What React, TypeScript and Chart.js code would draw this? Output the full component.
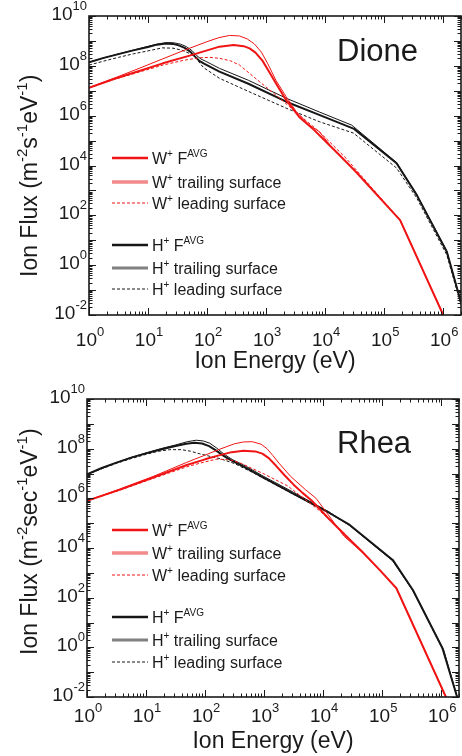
import React, { useEffect, useRef } from 'react';
import { Chart, registerables } from 'chart.js';

Chart.register(...registerables);

const FONT = '"Liberation Sans", Arial, Helvetica, sans-serif';
const RED = '#f01414';
const BLACK = '#161616';
const TEXT = '#1a1a1a';

const X_TICK_EXP = [0, 1, 2, 3, 4, 5, 6];
const Y_TICK_EXP = [-2, 0, 2, 4, 6, 8, 10];
const X_MIN = 1;
const X_MAX = 2e6;
const Y_MIN = 1e-2;
const Y_MAX = 1e10;

// ---------------- Dione ----------------
const DIONE_H_AVG_E = [1, 1.78, 3.16, 5.62, 10, 14.1, 20, 26.3, 33.1, 41.7, 52.5, 63.1, 74.1, 87.1, 162, 501, 2190, 7940, 30900, 162000, 355000, 1150000, 2000000];
const DIONE_H_AVG_F = [1.38e8, 2.09e8, 2.95e8, 4.17e8, 5.75e8, 7.08e8, 7.94e8, 7.59e8, 6.61e8, 5.25e8, 3.63e8, 2.29e8, 1.58e8, 1.26e8, 5.89e7, 1.91e7, 3.63e6, 1.07e6, 2.95e5, 1.23e4, 661, 3.47, 0.0316];

const DIONE_H_TRAIL_E = [1, 1.78, 3.16, 5.62, 10, 14.1, 20, 26.3, 35.5, 44.7, 56.2, 67.6, 79.4, 93.3, 162, 501, 2190, 7940, 28200, 162000, 355000, 1150000, 2000000];
const DIONE_H_TRAIL_F = [1.38e8, 2.09e8, 3.02e8, 4.27e8, 6.03e8, 7.41e8, 8.51e8, 8.51e8, 7.41e8, 5.89e8, 3.98e8, 2.51e8, 1.86e8, 1.55e8, 7.94e7, 2.63e7, 5.01e6, 1.41e6, 4.17e5, 1.32e4, 692, 3.63, 0.0316];

const DIONE_H_LEAD_E = [1, 1.78, 3.16, 5.62, 10, 17.4, 26.3, 37.2, 50.1, 64.6, 75.9, 87.1, 162, 589, 2190, 7940, 30200, 162000, 355000, 1150000, 2000000];
const DIONE_H_LEAD_F = [1.07e8, 1.55e8, 2.19e8, 3.02e8, 3.98e8, 5.25e8, 5.13e8, 4.27e8, 3.16e8, 2.14e8, 1.26e8, 8.51e7, 3.16e7, 7.94e6, 2.0e6, 5.75e5, 2.0e5, 7940, 501, 2.57, 0.0251];

const DIONE_W_AVG_E = [1, 2.63, 7.08, 17.8, 49, 100, 162, 282, 417, 525, 661, 871, 1150, 1480, 2190, 3630, 6030, 8910, 17400, 33100, 186000, 1000000];
const DIONE_W_AVG_F = [1.32e7, 2.95e7, 6.17e7, 1.26e8, 2.51e8, 4.17e8, 5.89e8, 6.92e8, 6.17e8, 5.01e8, 3.39e8, 1.58e8, 5.25e7, 1.91e7, 4.17e6, 8.91e5, 3.16e5, 1.26e5, 2.63e4, 5620, 64.6, 0.01];

const DIONE_W_TRAIL_E = [1, 2.63, 7.08, 17.8, 42.7, 100, 158, 240, 355, 479, 631, 832, 1070, 1480, 2190, 3240, 5370, 7940, 13200, 28800, 186000, 1000000];
const DIONE_W_TRAIL_F = [1.32e7, 3.16e7, 7.94e7, 1.91e8, 4.37e8, 9.33e8, 1.35e9, 1.66e9, 1.58e9, 1.2e9, 7.59e8, 3.55e8, 1.2e8, 2.51e7, 5.75e6, 1.45e6, 4.27e5, 2.29e5, 5.01e4, 7940, 64.6, 0.01];

const DIONE_W_LEAD_E = [1, 2.63, 7.08, 17.8, 39.8, 72.4, 112, 162, 251, 355, 776, 1700, 3630, 7940, 22400, 39800, 186000, 1000000];
const DIONE_W_LEAD_F = [1.32e7, 2.82e7, 5.62e7, 1.07e8, 1.66e8, 2.09e8, 2.19e8, 2.0e8, 1.58e8, 1.07e8, 2.29e7, 5.01e6, 1.07e6, 2.29e5, 2.0e4, 4170, 64.6, 0.01];

// ---------------- Rhea ----------------
const RHEA_H_AVG_E = [1, 1.78, 3.16, 5.62, 10, 17.8, 31.6, 47.9, 66.1, 89.1, 117, 155, 200, 263, 501, 955, 3160, 12600, 28200, 151000, 331000, 1050000, 1860000];
const RHEA_H_AVG_F = [9.33e6, 1.66e7, 2.75e7, 4.37e7, 6.46e7, 9.33e7, 1.29e8, 1.58e8, 1.74e8, 1.62e8, 1.26e8, 8.32e7, 5.37e7, 3.63e7, 1.66e7, 6.92e6, 1.51e6, 2.63e5, 8.51e4, 3310, 204, 0.912, 0.01];

const RHEA_H_TRAIL_E = [1, 1.78, 3.16, 5.62, 10, 17.8, 31.6, 50.1, 70.8, 93.3, 120, 158, 209, 295, 501, 955, 3160, 12600, 28200, 151000, 331000, 1100000, 1860000];
const RHEA_H_TRAIL_F = [9.33e6, 1.66e7, 2.75e7, 4.47e7, 6.76e7, 1.0e8, 1.41e8, 1.91e8, 2.19e8, 2.04e8, 1.66e8, 1.05e8, 6.03e7, 3.55e7, 1.91e7, 7.94e6, 1.74e6, 2.82e5, 7.94e4, 3020, 191, 0.794, 0.01];

const RHEA_H_LEAD_E = [1, 1.78, 3.16, 5.62, 10, 15.8, 25.1, 39.8, 56.2, 79.4, 126, 178, 316, 631, 3160, 12600, 28200, 151000, 331000, 1050000, 1860000];
const RHEA_H_LEAD_F = [8.91e6, 1.55e7, 2.57e7, 3.98e7, 5.89e7, 7.76e7, 9.12e7, 9.12e7, 7.94e7, 6.31e7, 4.79e7, 3.98e7, 2.51e7, 1.12e7, 1.45e6, 2.51e5, 8.32e4, 3160, 195, 0.871, 0.01];

const RHEA_W_AVG_E = [1, 3.63, 13.2, 49, 100, 178, 282, 447, 708, 933, 1200, 1580, 2240, 3160, 4470, 6310, 8910, 12000, 25100, 44700, 91200, 174000, 1200000];
const RHEA_W_AVG_F = [7.94e5, 2.24e6, 6.92e6, 2.19e7, 3.72e7, 5.5e7, 7.24e7, 8.32e7, 7.76e7, 6.31e7, 4.17e7, 2.09e7, 8.32e6, 3.55e6, 1.66e6, 8.32e5, 3.55e5, 1.66e5, 2.82e4, 7590, 1290, 240, 0.01];

const RHEA_W_TRAIL_E = [1, 3.63, 13.2, 49, 100, 178, 316, 447, 631, 891, 1120, 1410, 1780, 2820, 5010, 7590, 11500, 22400, 44700, 91200, 174000, 1200000];
const RHEA_W_TRAIL_F = [7.94e5, 2.4e6, 7.59e6, 2.82e7, 5.5e7, 9.55e7, 1.58e8, 1.86e8, 1.91e8, 1.51e8, 1.0e8, 5.25e7, 2.63e7, 7.59e6, 2.24e6, 1.0e6, 2.63e5, 3.02e4, 7080, 1290, 240, 0.01];

const RHEA_W_LEAD_E = [1, 3.63, 13.2, 49, 100, 158, 269, 417, 631, 1000, 2510, 8510, 24000, 44700, 91200, 174000, 1200000];
const RHEA_W_LEAD_F = [7.94e5, 2.14e6, 6.31e6, 1.86e7, 2.95e7, 3.8e7, 3.55e7, 2.51e7, 1.58e7, 9.55e6, 3.16e6, 3.31e5, 3.55e4, 7590, 1290, 240, 0.01];

// ---------------- Legend ----------------
type Seg = [string, number];
const LEGEND_LABELS: Seg[][] = [
  [['W', 0], ['+', 1], [' F', 0], ['AVG', 1]],
  [['W', 0], ['+', 1], [' trailing surface', 0]],
  [['W', 0], ['+', 1], [' leading surface', 0]],
  [['H', 0], ['+', 1], [' F', 0], ['AVG', 1]],
  [['H', 0], ['+', 1], [' trailing surface', 0]],
  [['H', 0], ['+', 1], [' leading surface', 0]],
];
const LEGEND_STYLES = [
  { color: RED, width: 2.5, dash: [] as number[] },
  { color: '#f28a8a', width: 3.5, dash: [] as number[] },
  { color: RED, width: 1, dash: [3, 2] },
  { color: BLACK, width: 2.5, dash: [] as number[] },
  { color: '#808080', width: 3, dash: [] as number[] },
  { color: BLACK, width: 1, dash: [3, 2] },
];

const SERIES_STYLES = {
  wAvg: { color: RED, width: 2, dash: [] as number[] },
  wTrail: { color: RED, width: 1, dash: [] as number[] },
  wLead: { color: RED, width: 1, dash: [3, 2] },
  hAvg: { color: BLACK, width: 2, dash: [] as number[] },
  hTrail: { color: BLACK, width: 1, dash: [] as number[] },
  hLead: { color: BLACK, width: 1, dash: [3, 2] },
};

const PANELS = [
  {
    name: 'Dione',
    series: [
      { e: DIONE_W_AVG_E, f: DIONE_W_AVG_F, s: 'wAvg' },
      { e: DIONE_W_TRAIL_E, f: DIONE_W_TRAIL_F, s: 'wTrail' },
      { e: DIONE_W_LEAD_E, f: DIONE_W_LEAD_F, s: 'wLead' },
      { e: DIONE_H_AVG_E, f: DIONE_H_AVG_F, s: 'hAvg' },
      { e: DIONE_H_TRAIL_E, f: DIONE_H_TRAIL_F, s: 'hTrail' },
      { e: DIONE_H_LEAD_E, f: DIONE_H_LEAD_F, s: 'hLead' },
    ],
    yTitle: [['Ion Flux (m', 0], ['-2', 1], ['s', 0], ['-1', 1], ['eV', 0], ['-1', 1], [')', 0]] as Seg[],
    padding: { left: 89, top: 16, right: 1, bottom: 63 },
    nameX: 337, nameY: 61,
    legendY: [158, 182, 203, 245, 268, 289],
    xLabelOffset: 31,
    xTitleY: 368,
  },
  {
    name: 'Rhea',
    series: [
      { e: RHEA_W_AVG_E, f: RHEA_W_AVG_F, s: 'wAvg' },
      { e: RHEA_W_TRAIL_E, f: RHEA_W_TRAIL_F, s: 'wTrail' },
      { e: RHEA_W_LEAD_E, f: RHEA_W_LEAD_F, s: 'wLead' },
      { e: RHEA_H_AVG_E, f: RHEA_H_AVG_F, s: 'hAvg' },
      { e: RHEA_H_TRAIL_E, f: RHEA_H_TRAIL_F, s: 'hTrail' },
      { e: RHEA_H_LEAD_E, f: RHEA_H_LEAD_F, s: 'hLead' },
    ],
    yTitle: [['Ion Flux (m', 0], ['-2', 1], ['sec', 0], ['-1', 1], ['eV', 0], ['-1', 1], [')', 0]] as Seg[],
    padding: { left: 87, top: 21, right: 3, bottom: 59 },
    nameX: 337, nameY: 75,
    legendY: [152, 175, 197, 239, 262, 284],
    xLabelOffset: 24.5,
    xTitleY: 370,
  },
];

function drawRich(ctx: CanvasRenderingContext2D, segs: Seg[], x: number, y: number, align: string, size: number, supSize: number, rise: number) {
  let w = 0;
  for (const [t, s] of segs) {
    ctx.font = `${s ? supSize : size}px ${FONT}`;
    w += ctx.measureText(t).width;
  }
  let cx = align === 'left' ? x : align === 'right' ? x - w : x - w / 2;
  ctx.textAlign = 'left';
  ctx.textBaseline = 'alphabetic';
  for (const [t, s] of segs) {
    ctx.font = `${s ? supSize : size}px ${FONT}`;
    ctx.fillText(t, cx, s ? y - rise : y);
    cx += ctx.measureText(t).width;
  }
}

function makeDecor(panel: any) {
  return {
    id: 'decor',
    afterDraw(chart: any) {
      const { ctx, chartArea: ca, scales } = chart;
      const xs = scales.x;
      const ys = scales.y;
      ctx.save();
      ctx.strokeStyle = TEXT;
      ctx.fillStyle = TEXT;
      ctx.lineWidth = 1;
      ctx.setLineDash([]);
      for (let d = 0; d <= 6; d++) {
        for (let m = 1; m <= 9; m++) {
          const v = m * Math.pow(10, d);
          if (v > X_MAX) break;
          const px = Math.round(xs.getPixelForValue(v)) + 0.5;
          const len = m === 1 ? 7 : 3.5;
          ctx.beginPath();
          ctx.moveTo(px, ca.bottom);
          ctx.lineTo(px, ca.bottom - len);
          ctx.moveTo(px, ca.top);
          ctx.lineTo(px, ca.top + len);
          ctx.stroke();
        }
      }
      for (let d = -2; d <= 10; d++) {
        for (let m = 1; m <= 9; m++) {
          const v = m * Math.pow(10, d);
          if (v > Y_MAX * 1.0001) break;
          const py = Math.round(ys.getPixelForValue(v)) + 0.5;
          const len = m === 1 ? 7 : 3.5;
          ctx.beginPath();
          ctx.moveTo(ca.left, py);
          ctx.lineTo(ca.left + len, py);
          ctx.moveTo(ca.right, py);
          ctx.lineTo(ca.right - len, py);
          ctx.stroke();
        }
      }
      ctx.lineWidth = 1.6;
      ctx.strokeRect(ca.left, ca.top, ca.right - ca.left, ca.bottom - ca.top);

      for (const e of Y_TICK_EXP) {
        const py = ys.getPixelForValue(Math.pow(10, e));
        drawRich(ctx, [['10', 0], [String(e), 1]], ca.left - 2, py + 4, 'right', 19, 13, 10);
      }
      for (const e of X_TICK_EXP) {
        const px = xs.getPixelForValue(Math.pow(10, e));
        drawRich(ctx, [['10', 0], [String(e), 1]], px + 1, ca.bottom + panel.xLabelOffset, 'center', 19, 13, 10);
      }

      ctx.font = `23px ${FONT}`;
      ctx.textAlign = 'center';
      ctx.fillText('Ion Energy (eV)', (ca.left + ca.right) / 2, panel.xTitleY);
      ctx.save();
      ctx.translate(37, 277);
      ctx.rotate(-Math.PI / 2);
      drawRich(ctx, panel.yTitle, 0, 0, 'left', 23, 15, 10);
      ctx.restore();

      ctx.font = `31px ${FONT}`;
      ctx.textAlign = 'left';
      ctx.fillText(panel.name, panel.nameX, panel.nameY);

      LEGEND_LABELS.forEach((segs, i) => {
        const st = LEGEND_STYLES[i];
        const y = panel.legendY[i];
        ctx.strokeStyle = st.color;
        ctx.lineWidth = st.width;
        ctx.setLineDash(st.dash);
        ctx.beginPath();
        ctx.moveTo(112, y);
        ctx.lineTo(148, y);
        ctx.stroke();
        ctx.setLineDash([]);
        ctx.fillStyle = TEXT;
        drawRich(ctx, segs, 152, y + 5.5, 'left', 16, 10, 7);
      });
      ctx.restore();
    },
  };
}

function Panel({ panel }: { panel: any }) {
  const ref = useRef<HTMLCanvasElement | null>(null);
  useEffect(() => {
    const canvas = ref.current;
    if (!canvas) return;
    const datasets = panel.series.map((sr: any) => {
      const st = (SERIES_STYLES as any)[sr.s];
      return {
        data: sr.e.map((e: number, i: number) => ({ x: e, y: sr.f[i] })),
        borderColor: st.color,
        borderWidth: st.width,
        borderDash: st.dash,
        borderJoinStyle: 'round',
        pointRadius: 0,
        fill: false,
        tension: 0,
      };
    });
    const chart = new Chart(canvas, {
      type: 'line',
      data: { datasets },
      options: {
        animation: false,
        responsive: false,
        maintainAspectRatio: false,
        devicePixelRatio: 1,
        layout: { padding: panel.padding },
        plugins: { legend: { display: false }, tooltip: { enabled: false } },
        scales: {
          x: { type: 'logarithmic', min: X_MIN, max: X_MAX, display: false },
          y: { type: 'logarithmic', min: Y_MIN, max: Y_MAX, display: false },
        },
      },
      plugins: [makeDecor(panel)],
    } as any);
    return () => chart.destroy();
  }, [panel]);
  return <canvas ref={ref} width={462} height={378} style={{ display: 'block', width: 462, height: 378 }} />;
}

export default function App() {
  return (
    <div style={{ position: 'absolute', left: 0, top: 0, width: 462, height: 756, background: '#fff' }}>
      {PANELS.map((p) => (
        <Panel key={p.name} panel={p} />
      ))}
    </div>
  );
}
